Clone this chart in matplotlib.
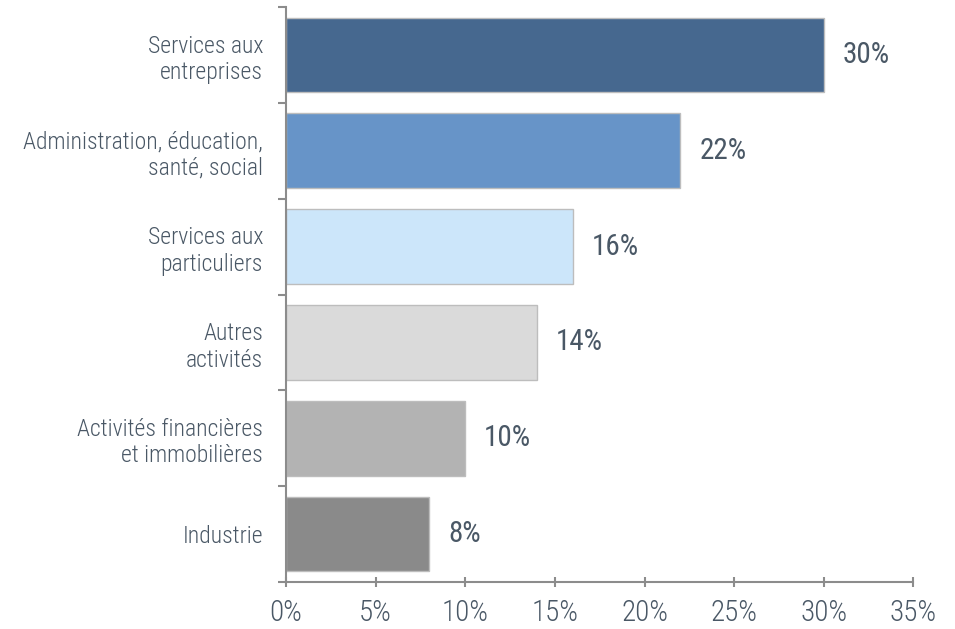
import matplotlib.pyplot as plt
import numpy as np

plt.rcParams['font.family'] = ['Roboto Condensed', 'Roboto', 'DejaVu Sans']
plt.rcParams['font.weight'] = 'light'

categories = ['Services aux\nentreprises', 'Administration, éducation,\nsanté, social',
              'Services aux\nparticuliers', 'Autres\nactivités',
              'Activités financières\net immobilières', 'Industrie']
values = [30, 22, 16, 14, 10, 8]
colors = ['#46688f', '#6794c8', '#cce6fa', '#dadada', '#b3b3b3', '#8a8a8a']
xticks = [0, 5, 10, 15, 20, 25, 30, 35]

text_col = '#4a5866'
axis_col = '#8c8c8c'

fig = plt.figure(figsize=(9.55, 6.29), dpi=100)
ax = fig.add_axes([0.2995, 0.0747, 0.657, 0.914])

y = np.arange(len(categories))
ax.barh(y, values, height=0.78, color=colors, edgecolor='#bdbdbd', linewidth=1)
for yi, v in zip(y, values):
    ax.text(v + 1.05, yi, f'{v}%', va='center', ha='left', fontsize=21,
            fontweight='normal', color=text_col)

ax.set_xlim(0, 35)
ax.set_ylim(len(categories) - 0.5, -0.5)
ax.set_xticks(xticks)
ax.set_xticklabels([f'{t}%' for t in xticks], fontsize=21, color=text_col)
ax.set_yticks(y)
ax.set_yticklabels(categories, fontsize=17, color=text_col, linespacing=1.2)
ax.set_yticks(np.arange(-0.5, len(categories)), minor=True)
ax.tick_params(axis='y', which='major', length=0, pad=16.5)
ax.tick_params(axis='y', which='minor', length=6, width=1.5, color=axis_col, direction='out')
ax.tick_params(axis='x', length=7, width=1.5, color=axis_col, direction='inout', pad=9)

for s in ['top', 'right']:
    ax.spines[s].set_visible(False)
for s in ['left', 'bottom']:
    ax.spines[s].set_color(axis_col)
    ax.spines[s].set_linewidth(1.5)

fig.savefig('out.png', dpi=100)
